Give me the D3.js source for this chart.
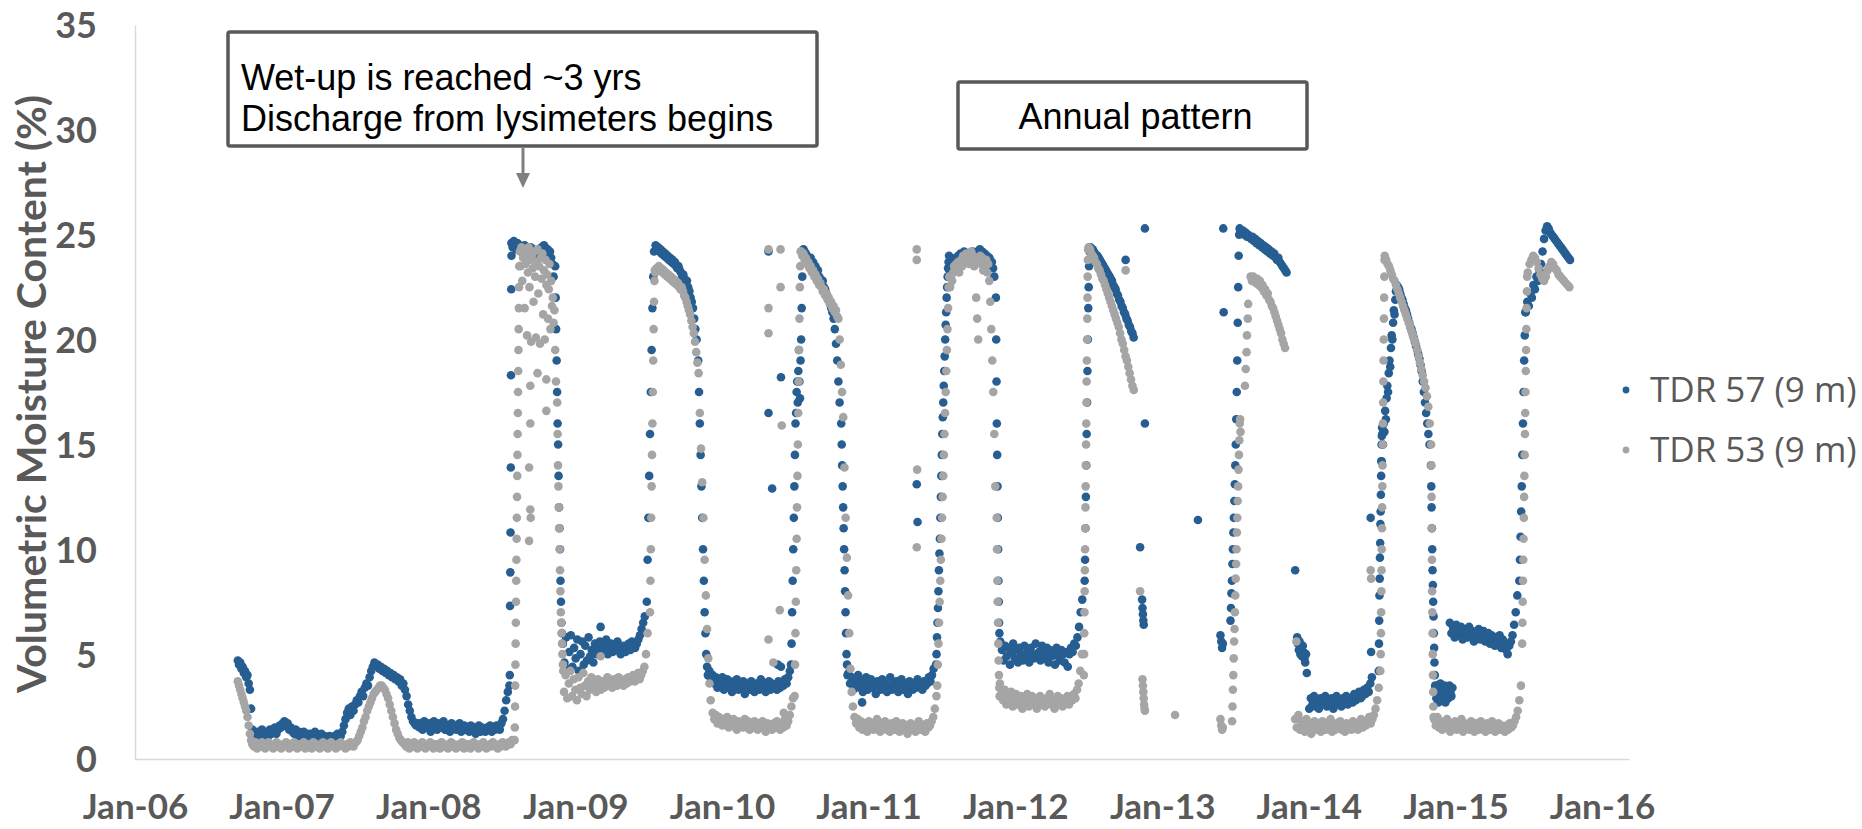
<!DOCTYPE html>
<html><head><meta charset="utf-8">
<script src="https://cdn.jsdelivr.net/npm/d3@7"></script>
<style>html,body{margin:0;padding:0;background:#fff;}svg{display:block;}</style>
</head><body>
<svg id="chart" width="1862" height="829"></svg>
<script>
// ---------------- DATA ----------------
const yTicks = [0, 5, 10, 15, 20, 25, 30, 35];
const xTickDates = ["2006-01-01","2007-01-01","2008-01-01","2009-01-01","2010-01-01","2011-01-01","2012-01-01","2013-01-01","2014-01-01","2015-01-01","2016-01-01"];
const xTickLabels = ["Jan-06","Jan-07","Jan-08","Jan-09","Jan-10","Jan-11","Jan-12","Jan-13","Jan-14","Jan-15","Jan-16"];
const seriesNames = ["TDR 57 (9 m)", "TDR 53 (9 m)"];
const yTitle = "Volumetric Moisture Content (%)";
const note1 = ["Wet-up is reached ~3 yrs", "Discharge from lysimeters begins"];
const note2 = "Annual pattern";

// runs of readings: [first date, days between readings, readings (%)]
const tdr57Runs = [
 ["2006-09-14",3,[4.7,4.5,4.6,4.3,4.4,4.1,4.2,3.9,4.0,3.6,3.3,2.4,1.4,1.2,1.1]],
 ["2006-10-28",4,[1.1,1.3,0.9,1.2,1.4,1.0,1.2,1.3,1.1,1.4,1.2,1.3,1.5,1.2,1.4,1.6,1.5,1.7,1.8,1.6,1.7,1.4,1.5,1.3,1.2,1.4,1.1,1.3,1.2,1.0,1.3,1.1,1.2,0.9,1.2,1.0,1.1,1.3,0.9,1.1,1.0,1.2,0.9,1.1,1.0,0.9,1.1,1.0,0.8,1.1,1.0,1.2,1.0,1.1]],
 ["2007-06-01",4,[1.3,1.6,1.9,2.2,2.4,2.1,2.5,2.3,2.6,2.8,2.7,3.0,3.2,3.0,3.4,3.6,3.5,3.9,4.2,4.4,4.6,4.5]],
 ["2007-08-28",4,[4.5,4.3,4.4,4.2,4.3,4.1,4.2,4.0,4.1,3.9,4.0,3.8,3.9,3.7,3.8,3.5,3.6,3.3,3.0,2.6,2.3,2.0,1.8,1.7,1.6,1.7]],
 ["2007-12-10",4,[1.5,1.7,1.4,1.8,1.6,1.5,1.7,1.3,1.6,1.8,1.5,1.4,1.7,1.6,1.5,1.8,1.4,1.6,1.5,1.3,1.7,1.5,1.6,1.4,1.5,1.7,1.3,1.5,1.6,1.4,1.5,1.3,1.6,1.4,1.5,1.2,1.4,1.6,1.3,1.5,1.4,1.3,1.5,1.4,1.6,1.3,1.5,1.4,1.6,1.5,1.4,1.7,1.9,2.3,2.8,3.2,3.5]],
 ["2008-07-22",0.6,[4.0,7.3,8.9,10.8,13.9,18.3,22.4,24.0]],
 ["2008-07-26",3,[24.6,24.4,24.7,24.5,24.3,24.6,24.4,24.5,24.2,24.4,24.3,24.5,24.4,24.2,24.3,24.1,24.4,24.2,24.3,24.0,24.2,24.1,23.9,24.0,24.2,24.4,24.3,24.5,24.4,24.2,24.3,24.1,24.2,23.9,23.6,23.0]],
 ["2008-11-12",1.2,[23.5,22,20.5,19,17.5,16,15,13.5,12,11,10,8.5,7.5,6.5,6]],
 ["2008-12-01",4,[5.5,4.6,5.8,4.3,5.1,5.9,4.4,5.3,4.8,5.7,4.2,5.0,5.6,4.5,5.4,4.7,5.8,4.9,5.2,4.6,5.5,5.0,5.3,5.6,5.1,5.4,5.2,5.7,5.0,5.3,5.5,5.1,5.4,5.2,5.6,5.3,5.0,5.2,5.4,5.1,5.3,5.5,5.2,5.6,5.4,5.3,5.5,5.7,5.9,6.2,6.5,6.8]],
 ["2009-06-28",2,[7.5,9.5,11.5,13.5,15.5,17.5,19.5,21.5,23,24.2]],
 ["2009-07-20",3,[24.5,24.3,24.4,24.2,24.3,24.1,24.2,24.0,24.1,23.9,24.0,23.8,23.9,23.7,23.8,23.6,23.7,23.5,23.4,23.5,23.3,23.2,23.0,23.1,22.9,22.7,22.8,22.5,22.3,22.0,21.8,21.5,21.0,20.5,20.0]],
 ["2009-11-03",2,[19,17.5,16,14.5,13,11.5,10,8.5,7,6,5,4.4,4.0]],
 ["2009-12-01",4,[4.2,3.8,4.0,3.6,3.9,3.4,3.7,3.5,3.9,3.3,3.6,3.8,3.4,3.7,3.2,3.6,3.5,3.8,3.3,3.6,3.4,3.7,3.1,3.5,3.6,3.3,3.7,3.4,3.2,3.6,3.5,3.3,3.8,3.4,3.6,3.2,3.5,3.7,3.3,3.6,3.4,3.5,3.3,3.7,3.4,3.6,3.5,3.8,3.6,3.9,4.2]],
 ["2010-06-22",1.4,[4.5,5.5,7,8.5,10,11.5,13,14.5,16,16.5,17.5,18,17,18.5,19.5,18,17.2,19,20,21.5,23,24.2]],
 ["2010-07-23",3,[24.3,24.2,24.1,24.0,23.9,23.8,23.9,23.6,23.7,23.4,23.5,23.2,23.3,23.0,22.9,22.7,22.8,22.5,22.4,22.2,22.0,21.9,21.7,21.5,21.3,21.0,20.5,19.8,19.0,18.0,17.0]],
 ["2010-10-25",1.2,[16,15,14,13,12,11,10,9,8,7,6,5,4.5,4.0]],
 ["2010-11-12",4,[4.1,3.6,3.9,3.3,3.8,3.5,4.0,3.4,3.7,3.2,3.6,3.9,3.3,3.5,3.8,3.4,3.6,3.1,3.7,3.5,3.3,3.8,3.4,3.6,3.2,3.5,3.9,3.3,3.6,3.4,3.7,3.2,3.5,3.8,3.3,3.6,3.4,3.1,3.7,3.5,3.3,3.6,3.4,3.8,3.5,3.6,3.3,3.7,3.5,3.6,3.9,3.7,4.0,4.3]],
 ["2011-06-18",1.2,[4.5,5,5.8,6.5,7.2,8,9,9.8,10.5,11.5,12.5,13.5,14.5,15.5,16.3,17,17.8,18.5,19.2,20,20.7,21.3,22,22.5,23,23.4,23.7,24.0]],
 ["2011-07-22",3,[23.3,23.6,23.5,23.8,23.6,23.9,23.7,24.0,23.8,24.1,23.9,24.0,24.2,23.9,24.1,24.0,23.8,24.1,23.9,24.2,24.0,24.1,23.9,24.2,24.0,24.3,24.1,24.2,24.0,24.1,23.9,24.0,23.8,23.9,23.6,23.7,23.4,23.0]],
 ["2011-11-14",0.8,[22,20,18,16,14.5,13,11.5,10,8.5,7.5,6.5,6,5.5]],
 ["2011-11-25",4,[5.6,5.2,4.7,5.4,4.9,5.3,4.5,5.1,5.5,4.8,5.2,4.6,5.3,5.0,4.7,5.4,4.9,5.2,4.6,5.3,5.0,4.8,5.5,4.9,5.1,4.7,5.4,5.0,4.8,5.3,4.6,5.2,4.9,5.1,4.5,5.3,4.9,4.7,5.2,5.0,4.6,5.1,4.4,5.0,5.3,5.1,5.5,5.4,5.8,6.3,7.0,7.6]],
 ["2012-06-22",1,[8.5,9.5,11,12.5,14,15.5,17,18.5,20,21.5,22.5,23.5,24.2,24.4]],
 ["2012-07-06",3,[24.4,24.3,24.3,24.2,24.1,24.0,24.0,23.9,23.8,23.7,23.6,23.5,23.4,23.3,23.2,23.1,23.0,22.9,22.8,22.6,22.5,22.4,22.2,22.1,21.9,21.8,21.6,21.5,21.3,21.2,21.0,20.9,20.7,20.6,20.4,20.3,20.1]],
 ["2013-06-20",1.2,[6.6,7.2,7.9,8.5,9.3,10.0,10.8,11.5,12.3,13.1,14.0,15.0,16.2,17.5,19.0,20.8,22.5,24.0,25.0,25.3]],
 ["2013-07-14",3.4,[25.2,25.1,25.2,25.0,25.1,24.9,25.0,24.9,24.8,24.9,24.7,24.8,24.6,24.7,24.5,24.6,24.4,24.5,24.3,24.4,24.2,24.3,24.1,24.2,24.0,24.1,23.9,23.8,23.9,23.7,23.6,23.5,23.4,23.3,23.2]],
 ["2013-12-03",2,[5.8,5.5,5.2,5.6,5.0,5.3,4.9,5.4,5.1,4.8,4.6,5.0,4.1]],
 ["2014-01-02",4,[2.4,2.9,2.6,3.0,2.5,2.8,2.4,2.9,2.6,2.7,3.0,2.5,2.8,2.6,2.9,2.4,2.7,3.0,2.6,2.8,2.5,2.9,2.7,3.0,2.6,2.8,2.9,2.7,3.1,2.8,2.9,3.2,2.9,3.0,3.3,3.1,3.4,3.2,3.6,3.9]],
 ["2014-06-24",0.6,[4.2,5.5,6.6,7.8,8.6,9.6,10.3,11.2,11.8,12.6,13.5,14.2,15,15.4,15.8]],
 ["2014-07-01",1.8,[14.2,15.5,15.0,16.0,15.6,16.6,16.2,17.2,17.8,17.5,18.4,19.0,18.7,19.6,20.2,20.0,20.8,21.4,21.2,21.9,22.3,22.6]],
 ["2014-08-11",2.8,[22.5,22.4,22.2,22.0,21.9,21.7,21.5,21.4,21.2,21.0,20.8,20.6,20.5,20.3,20.1,19.9,19.7,19.5,19.3,19.1,18.8,18.5,18.0,17.5,17.0,16.5,16.0,15.5,15.0]],
 ["2014-11-01",0.8,[14,13,12,11,10,9,8.3,7.5,6.8,6,5.3,4.6,4,3.5]],
 ["2014-11-12",2.5,[3.4,2.9,3.5,2.7,3.2,3.6,2.8,3.3,3.0,3.5,2.7,3.4,3.1,2.9,3.5,3.2,3.0,3.4]],
 ["2014-12-18",4,[6.5,6.0,6.3,5.8,6.4,6.1,5.9,6.3,5.7,6.2,6.0,5.8,6.3,5.9,6.1,5.6,6.0,5.8,6.2,5.7,5.9,6.1,5.6,5.8,6.0,5.5,5.9,5.7,5.4,5.8,5.6,5.9,5.3,5.7,5.5,5.2,5.0,5.4,5.6,5.9,6.4,7.0,7.8]],
 ["2015-06-09",1.5,[8.5,9.5,10.6,11.8,13,14.5,16,17.5,19,20.2,21.3]],
 ["2015-06-25",3.8,[21.3,21.8,21.6,22.2,22.0,22.6,22.4,23.0,22.8,23.3,23.6,24.2,24.8,25.2,25.4,25.3,25.1,25.0,24.9,24.8,24.7,24.6,24.5,24.4,24.3,24.2,24.1,24.0,23.9,23.8]]
];
// single scattered readings: [date, reading (%)]
const tdr57Single = [["2009-03-05",6.3],["2010-04-27",24.2],["2010-04-27",16.5],["2010-05-06",12.9],["2010-05-28",18.2],["2010-05-20",4.5],["2010-05-28",4.4],["2010-12-16",2.7],["2011-05-01",13.1],["2011-05-03",11.3],["2012-10-02",23.8],["2012-11-19",25.3],["2012-11-19",16.0],["2012-11-07",10.1],["2012-11-12",7.6],["2012-11-13",7.2],["2012-11-14",6.9],["2012-11-15",6.6],["2012-11-16",6.4],["2013-03-31",11.4],["2013-05-26",5.9],["2013-05-28",5.6],["2013-05-30",5.3],["2013-06-01",5.5],["2013-06-02",25.3],["2013-06-03",21.3],["2013-11-28",9.0],["2014-06-04",11.5],["2014-06-05",5.1]];

const tdr53Runs = [
 ["2006-09-14",3,[3.7,3.5,3.3,3.1,2.9,2.7,2.5,2.3,2.0,1.6,1.2,0.9]],
 ["2006-10-20",4,[0.7,0.6,0.8,0.5,0.7,0.6,0.8,0.7,0.5,0.6,0.8,0.7,0.6,0.5,0.7,0.8,0.6,0.7,0.5,0.6,0.7,0.8,0.6,0.5,0.7,0.6,0.8,0.7,0.5,0.6,0.7,0.6,0.8,0.5,0.7,0.6,0.7,0.5,0.8,0.6,0.7,0.6,0.5,0.7,0.8,0.6,0.7,0.5,0.6,0.8,0.7,0.6,0.5,0.7,0.6,0.8,0.7,0.6,0.5,0.7,0.6,0.8,0.7,0.6]],
 ["2007-07-05",4,[0.8,0.9,1.1,1.3,1.5,1.8,2.0,2.3,2.5,2.7,2.9,3.1,3.2,3.3,3.4,3.5,3.5,3.4,3.3,3.1,2.9,2.6,2.3,2.0,1.7,1.4,1.2,1.0,0.9,0.8]],
 ["2007-11-03",4,[0.7,0.6,0.8,0.5,0.7,0.6,0.8,0.6,0.5,0.7,0.6,0.8,0.7,0.5,0.6,0.7,0.8,0.6,0.5,0.7,0.6,0.7,0.5,0.8,0.6,0.7,0.6,0.5,0.7,0.8,0.6,0.7,0.5,0.6,0.7,0.6,0.8,0.5,0.7,0.6,0.7,0.5,0.6,0.8,0.7,0.6,0.5,0.7,0.6,0.8,0.7,0.5,0.6,0.7,0.6,0.8,0.7,0.6,0.5,0.7,0.6,0.8,0.7,0.6,0.7,0.8,0.7,0.9]],
 ["2008-08-03",0.5,[0.9,1.5,2.5,3.5,4.5,5.5,6.5,7.5,8.5,9.5,10.5,11.5,12.5,13.5,14.5,15.5,16.5,17.5,18.5,19.5,20.5,21.5,22.5,23.5]],
 ["2008-08-16",2,[24.2,23.5,24.4,22.8,23.9,24.3,21.5,23.6,24.1,20.2,23.2,24.4,22.5,23.8,19.9,24.0,23.4,21.8,24.2,23.0,20.1,23.7,24.3,22.2,23.5,19.8,23.9,22.9,24.1,21.2,23.3,20.0,23.8,22.6,23.1,21.0,22.4,23.6,20.5,22.8,21.6,22.0,20.8,21.4,19.5,18.0]],
 ["2008-11-17",1,[17,15.5,14,13,12,11,10,9,8,7,6.5,6,5.5,5,4.5,4.2]],
 ["2008-12-04",4,[3.2,4.0,2.9,3.6,4.2,3.0,3.8,3.3,2.8,3.9,3.4,3.1,4.1,3.5,3.0,3.7,3.3,3.9,3.4,3.6,3.2,3.8,3.5,3.3,3.7,3.4,3.6,3.9,3.5,3.7,3.4,3.8,3.6,3.5,3.9,3.6,3.7,3.5,3.8,3.6,3.9,3.7,3.8,4.0,3.7,3.9,4.1,3.8,4.0,4.2,4.4,5.0,6.0]],
 ["2009-07-06",1,[7,8.5,10,11.5,13,14.5,16,17.5,19,20.5,21.8,22.8,23.3]],
 ["2009-07-19",3,[23.2,23.4,23.3,23.5,23.3,23.4,23.2,23.3,23.1,23.2,23.0,23.1,22.9,23.0,22.8,22.9,22.7,22.8,22.6,22.7,22.5,22.4,22.5,22.3,22.1,22.0,21.8,21.6,21.4,21.2,20.9,20.6,20.3,19.9,19.4,18.9,18.4,16.5,14.8,13.2,11.5,9.5,7.8,6.2,4.8,3.6,2.8]],
 ["2009-12-09",4,[2.2,1.9,2.1,1.7,2.0,1.8,1.6,1.9,1.7,2.0,1.5,1.8,1.6,1.9,1.7,1.4,1.8,1.6,1.7,1.5,1.9,1.6,1.8,1.4,1.7,1.5,1.8,1.6,1.4,1.7,1.5,1.8,1.6,1.3,1.7,1.5,1.6,1.4,1.7,1.5,1.8,1.6,1.4,1.7,1.5,1.9,1.6,1.8,2.1,2.5,2.9]],
 ["2010-07-01",1,[3,4.5,6,7.5,9,10.5,12,13.5,15,16.5,18,19.5,21,22.5,23.5,24.2]],
 ["2010-07-17",3,[24.2,24.0,24.1,23.8,23.9,23.6,23.7,23.4,23.5,23.2,23.3,23.0,23.1,22.8,22.9,22.6,22.7,22.5,22.3,22.4,22.1,22.2,21.9,22.0,21.7,21.8,21.5,21.6,21.3,21.4,21.1,21.0,20.0,18.8,17.5,16.3,13.9,11.5,9.6,7.8,6.0,4.3,3.2,2.5]],
 ["2010-11-27",4,[2.0,1.7,1.9,1.5,1.8,1.4,1.7,1.6,1.3,1.8,1.5,1.7,1.4,1.6,1.9,1.5,1.3,1.7,1.5,1.8,1.4,1.6,1.3,1.7,1.5,1.4,1.8,1.6,1.3,1.5,1.7,1.4,1.6,1.2,1.5,1.7,1.4,1.6,1.3,1.5,1.8,1.4,1.6,1.5,1.3,1.7,1.5,1.6,1.8,2.0,2.4,3.0]],
 ["2011-06-21",1.5,[3.5,4.5,5.5,6.5,7.5,8.5,9.5,10.5,11.5,12.5,13.5,14.5,15.5,16.5,17.5,18.5,19.5,20.5,21.5,22.5,23.0]],
 ["2011-07-23",2.5,[22.5,23.0,22.8,23.2,23.5,23.3,23.6,23.4,23.7,23.2,23.6,23.8,23.5,24.0,23.7,23.9,24.1,23.8,24.0,23.6,23.9,24.2,23.7,24.0,23.5,23.8,22.0,21.0,20.0,23.7,24.0,23.6,23.9,23.3,23.7,23.5,23.8,23.2,23.6,22.8,21.8,20.5,19.0,17.5,15.5,13.0]],
 ["2011-11-16",0.8,[11.5,10,8.5,7.5,6.5,5.5,4.7,4.0,3.4,3.0]],
 ["2011-11-24",4,[3.6,3.1,2.8,3.3,2.6,3.0,2.7,3.2,2.5,2.9,3.1,2.6,2.8,3.0,2.4,2.9,2.7,3.1,2.5,2.8,3.0,2.6,2.9,2.4,2.7,3.0,2.6,2.8,2.5,2.9,2.7,3.1,2.6,2.8,2.4,2.7,3.0,2.6,2.9,2.5,2.8,2.7,3.0,2.6,2.9,2.8,3.1,2.9,3.3,3.6,4.2,5.0]],
 ["2012-06-20",0.5,[4,5,6,7,8,9,10,11,12,13,14,15,16,17,18,19,20,21,22,23,23.8,24.3]],
 ["2012-07-02",3.4,[24.4,24.3,24.1,24.0,23.9,23.7,23.6,23.4,23.3,23.1,22.9,22.8,22.6,22.4,22.2,22.0,21.8,21.6,21.4,21.2,21.0,20.8,20.6,20.3,20.0,19.8,19.5,19.2,19.0,18.7,18.4,18.1,17.8,17.6]],
 ["2013-06-24",1,[1.8,2.5,3.3,4.0,4.8,5.6,6.2,7.0,7.8,8.6,9.3,10.0,10.8,11.5,12.3,13.0,13.8,14.5,15.2,16.0]],
 ["2013-08-09",3.3,[23.0,22.8,23.0,22.9,22.7,22.9,22.6,22.8,22.5,22.6,22.3,22.4,22.1,22.2,21.9,21.8,21.6,21.5,21.3,21.1,20.9,20.7,20.5,20.3,20.0,19.8,19.6]],
 ["2013-11-28",4,[1.9,1.5,2.1,1.4,1.8,1.6,1.3,1.9,1.5,1.7,1.2,1.6,1.8,1.4,1.7,1.5,1.3,1.8,1.6,1.4,1.7,1.5,1.9,1.3,1.6,1.4,1.7,1.5,1.8,1.4,1.6,1.3,1.7,1.5,1.6,1.4,1.8,1.5,1.7,1.4,1.6,1.9,1.5,1.7,1.6,1.8,2.0,1.7,1.9,2.1,2.4,2.8,3.4,4.2]],
 ["2014-06-29",0.5,[5,6,7,8,9,10,11,12,13,14,15,16,17,18,19,20,21,22,23,23.8]],
 ["2014-07-09",3.5,[24.0,23.8,23.6,23.5,23.3,23.1,22.9,22.8,22.6,22.4,22.2,22.0,21.8,21.6,21.4,21.2,21.0,20.8,20.6,20.4,20.2,20.0,19.8,19.5,19.2,18.9,18.6,18.3,18.0,17.7,17.3,16.8,16.0,15.0]],
 ["2014-11-02",0.5,[14,12.5,11,9.5,8,7,6,5,4,3.2,2.5,2.0]],
 ["2014-11-09",4,[1.9,1.6,2.0,1.5,1.8,1.4,1.7,1.5,1.9,1.6,1.3,1.7,1.5,1.8,1.4,1.6,1.5,1.9,1.3,1.7,1.5,1.6,1.4,1.8,1.5,1.3,1.7,1.6,1.4,1.8,1.5,1.6,1.3,1.7,1.5,1.4,1.8,1.6,1.3,1.5,1.7,1.4,1.6,1.5,1.3,1.6,1.4,1.7,1.5,1.6,1.8,2.0,2.3,2.8,3.5]],
 ["2015-06-16",0.7,[5.5,6.5,7.5,8.5,9.5,10.5,11.5,12.5,13.5,14.5,15.5,16.5,17.5,18.5,19.5,20.5,21.5,22.3,23.0]],
 ["2015-06-30",4.5,[23.2,23.6,23.8,24.0,23.9,23.7,23.4,23.1,22.9,22.8,23.0,23.3,23.5,23.7,23.6,23.4,23.3,23.1,23.0,22.9,22.8,22.7,22.6,22.5]]
];
const tdr53Single = [["2008-09-29",18.4],["2008-09-11",17.8],["2008-10-21",18.1],["2008-10-21",16.6],["2008-09-11",16.0],["2008-09-08",13.9],["2008-09-11",11.9],["2008-09-12",11.5],["2008-09-08",10.4],["2009-03-05",4.9],["2010-04-27",24.3],["2010-04-27",21.5],["2010-04-27",20.3],["2010-04-27",5.7],["2010-05-27",24.3],["2010-05-27",22.5],["2010-05-30",15.9],["2010-05-25",7.1],["2010-05-09",4.6],["2010-06-04",2.2],["2011-05-01",24.3],["2011-05-01",23.8],["2011-05-02",13.8],["2011-05-01",10.1],["2012-10-02",23.3],["2012-11-07",8.0],["2012-11-13",3.8],["2012-11-14",3.5],["2012-11-15",3.2],["2012-11-16",2.9],["2012-11-17",2.6],["2012-11-18",2.4],["2012-11-19",2.3],["2013-02-02",2.1],["2013-05-26",1.9],["2013-05-28",1.6],["2013-05-30",1.4],["2013-06-01",1.5],["2013-07-28",18.6],["2013-07-30",19.4],["2013-07-31",20.2],["2013-08-02",21.0],["2013-08-03",21.7],["2013-07-26",17.8],["2013-07-14",16.2],["2013-07-15",15.6],["2013-12-01",5.6],["2014-06-04",9.0],["2014-06-05",8.6]];

const seriesColors = ["#265E92", "#A5A5A5"];

// ---------------- CHART ----------------
const parse = d3.utcParse("%Y-%m-%d");
const DAY = 86400000;
function expand(runs, singles) {
  const pts = [];
  runs.forEach(([start, step, vals]) => {
    const t0 = parse(start).getTime();
    vals.forEach((v, i) => pts.push({date: new Date(t0 + i * step * DAY), value: v}));
  });
  singles.forEach(([d, v]) => pts.push({date: parse(d), value: v}));
  return pts;
}
const series = [
  {name: seriesNames[0], color: seriesColors[0], points: expand(tdr57Runs, tdr57Single)},
  {name: seriesNames[1], color: seriesColors[1], points: expand(tdr53Runs, tdr53Single)}
];

const svg = d3.select("#chart");
const x = d3.scaleUtc().domain([parse("2006-01-01"), parse("2016-03-08")]).range([135, 1629]);
const y = d3.scaleLinear().domain([0, 35]).range([759, 25]);

const tickFont = "Lato, 'Open Sans', sans-serif";
const gx = svg.append("g").attr("transform", "translate(0,759)")
  .call(d3.axisBottom(x).tickValues(xTickDates.map(parse)).tickFormat((d, i) => xTickLabels[i]).tickSize(0).tickSizeOuter(0));
gx.select(".domain").attr("stroke", "#d9d9d9").attr("stroke-width", 1.5);
gx.selectAll("text").attr("y", 47).attr("dy", "0.36em")
  .attr("fill", "#595959").style("font-family", tickFont).style("font-weight", "bold").style("font-size", "35px");

const gy = svg.append("g").attr("transform", "translate(135,0)")
  .call(d3.axisLeft(y).tickValues(yTicks).tickSize(0).tickSizeOuter(0).tickPadding(38));
gy.select(".domain").attr("stroke", "#d9d9d9").attr("stroke-width", 1.5);
gy.selectAll("text").attr("dy", "0.36em")
  .attr("fill", "#595959").style("font-family", tickFont).style("font-weight", "bold").style("font-size", "36px");

svg.append("text").attr("transform", "translate(31,394) rotate(-90)")
  .attr("text-anchor", "middle").attr("dy", "0.36em")
  .attr("fill", "#595959").style("font-family", tickFont).style("font-weight", "bold").style("font-size", "41px")
  .text(yTitle);

// points
series.forEach(s => {
  svg.append("g").selectAll("circle").data(s.points).join("circle")
    .attr("cx", d => x(d.date)).attr("cy", d => y(d.value)).attr("r", 4.3)
    .attr("fill", s.color);
});

// legend
const lg = svg.append("g");
series.forEach((s, i) => {
  lg.append("circle").attr("cx", 1626).attr("cy", 390 + i * 60).attr("r", 3.4).attr("fill", s.color);
  lg.append("text").attr("x", 1650).attr("y", 390 + i * 60).attr("dy", "0.35em")
    .attr("fill", "#595959").style("font-family", "'Open Sans', sans-serif").style("font-size", "35px")
    .text(s.name);
});

// annotations
const noteFont = "'Liberation Sans', Arial, sans-serif";
svg.append("rect").attr("x", 228).attr("y", 32).attr("width", 589).attr("height", 114).attr("rx", 2)
  .attr("fill", "#fff").attr("stroke", "#595959").attr("stroke-width", 3.5);
note1.forEach((t, i) => {
  svg.append("text").attr("x", 241).attr("y", 90 + i * 41).attr("fill", "#000")
    .style("font-family", noteFont).style("font-size", "36px").text(t);
});
svg.append("line").attr("x1", 523).attr("x2", 523).attr("y1", 148).attr("y2", 176)
  .attr("stroke", "#7f7f7f").attr("stroke-width", 3);
svg.append("path").attr("d", "M516,173 L530,173 L523,188 Z").attr("fill", "#7f7f7f");

svg.append("rect").attr("x", 958).attr("y", 82).attr("width", 349).attr("height", 67).attr("rx", 2)
  .attr("fill", "#fff").attr("stroke", "#595959").attr("stroke-width", 3.5);
svg.append("text").attr("x", 1135.5).attr("y", 129).attr("text-anchor", "middle").attr("fill", "#000")
  .style("font-family", noteFont).style("font-size", "36px").text(note2);
</script>
</body></html>
